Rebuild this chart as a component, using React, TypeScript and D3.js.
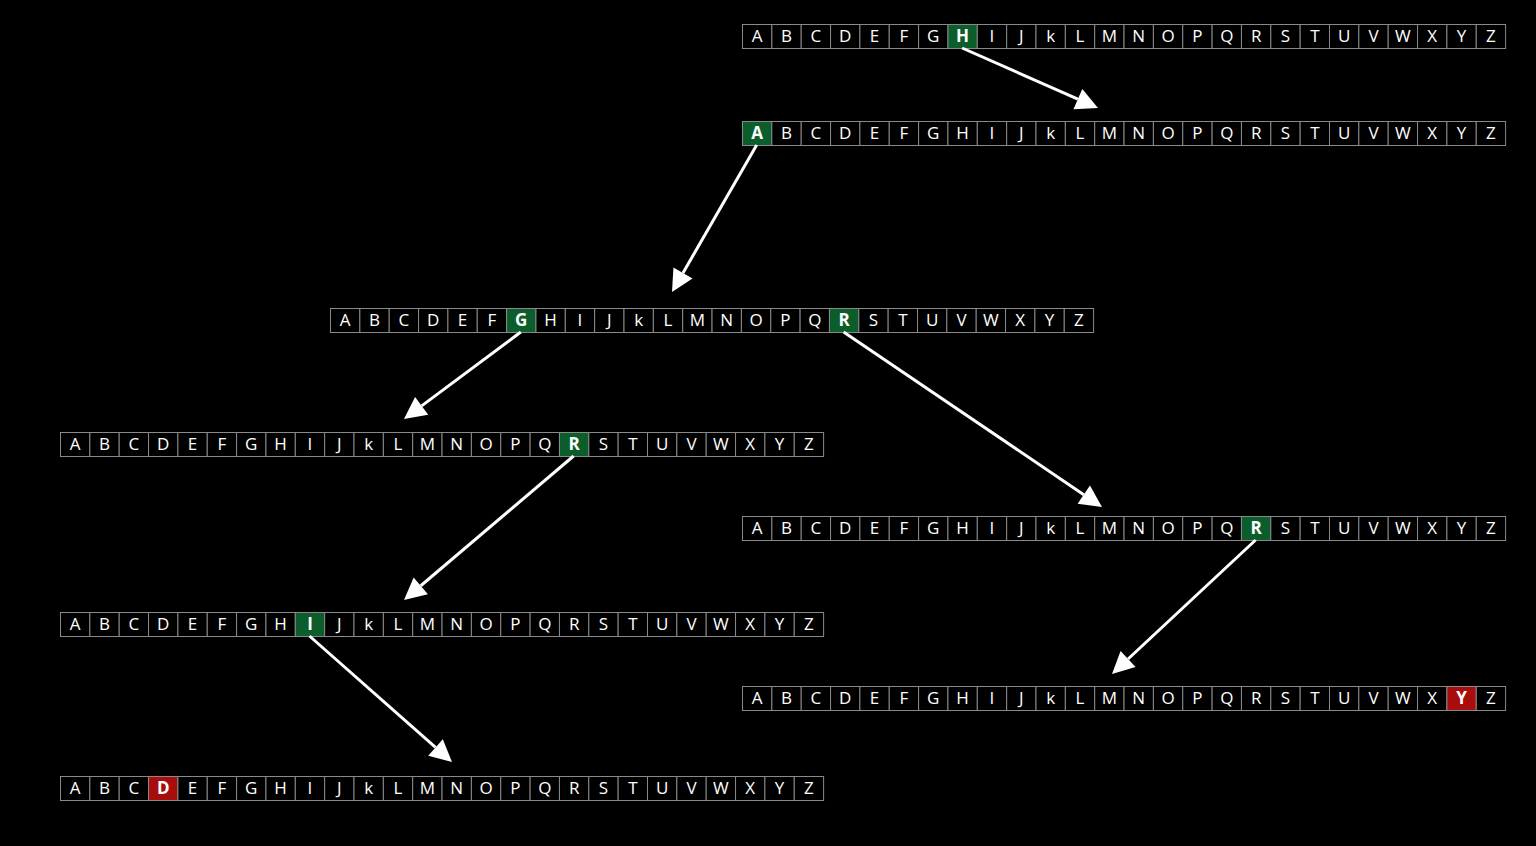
import React from "react";
import * as d3 from "d3";

const letters = ["A","B","C","D","E","F","G","H","I","J","k","L","M","N","O","P","Q","R","S","T","U","V","W","X","Y","Z"];
// rows: left x, center y, highlighted letters, color kind
const rowX = [742, 742, 330, 60, 742, 60, 742, 60];
const rowY = [36, 133, 320, 444, 528, 624, 698, 788];
const rowHi = [["H"], ["A"], ["G", "R"], ["R"], ["R"], ["I"], ["Y"], ["D"]];
const rowHiKind = ["ok", "ok", "ok", "ok", "ok", "ok", "bad", "bad"];
// arrows: from row/letter to tip point
const arrowFrom = [[0, "H"], [1, "A"], [2, "G"], [2, "R"], [3, "R"], [4, "R"], [5, "I"]] as [number, string][];
const arrowTip = [[1098, 108], [672, 292], [404, 419], [1102, 507], [404, 600], [1112, 674], [452, 762]];

const cellW = 29.35, cellH = 24;

export default function App() {
  const x = (r: number) => d3.scaleBand().domain(letters).range([rowX[r], rowX[r] + cellW * 26]);
  return (
    <svg width={1536} height={846} style={{ position: "absolute", left: 0, top: 0, background: "#000" }}
      fontFamily="'Open Sans', 'Noto Sans', sans-serif">
      <rect width={1536} height={846} fill="#000" />
      {rowX.map((_, r) => {
        const s = x(r);
        return (
          <g key={r}>
            {letters.map((l) => {
              const hi = rowHi[r].includes(l);
              const fill = hi ? (rowHiKind[r] === "ok" ? "#0b5e2b" : "#a80d0d") : "#000";
              return (
                <g key={l}>
                  <rect x={s(l)! + 0.5} y={rowY[r] - cellH / 2 + 0.5} width={s.bandwidth()} height={cellH}
                    fill={fill} stroke="#8a8a8a" strokeWidth={1} />
                  <text x={s(l)! + s.bandwidth() / 2 + 0.5} y={rowY[r] + 1} textAnchor="middle" dominantBaseline="middle"
                    fill="#fff" fontSize={17} fontWeight={hi ? 700 : 400}>{l}</text>
                </g>
              );
            })}
          </g>
        );
      })}
      {arrowFrom.map(([r, l], i) => {
        const s = x(r);
        const x0 = s(l)! + s.bandwidth() / 2;
        const y0 = rowY[r] + cellH / 2;
        const [tx, ty] = arrowTip[i];
        const ang = Math.atan2(ty - y0, tx - x0);
        const hl = 22, hw = 11;
        const bx = tx - hl * Math.cos(ang), by = ty - hl * Math.sin(ang);
        const px = -Math.sin(ang) * hw, py = Math.cos(ang) * hw;
        return (
          <g key={i}>
            <line x1={x0} y1={y0} x2={bx} y2={by} stroke="#fff" strokeWidth={3} />
            <polygon points={`${tx},${ty} ${bx + px},${by + py} ${bx - px},${by - py}`} fill="#fff" />
          </g>
        );
      })}
    </svg>
  );
}
